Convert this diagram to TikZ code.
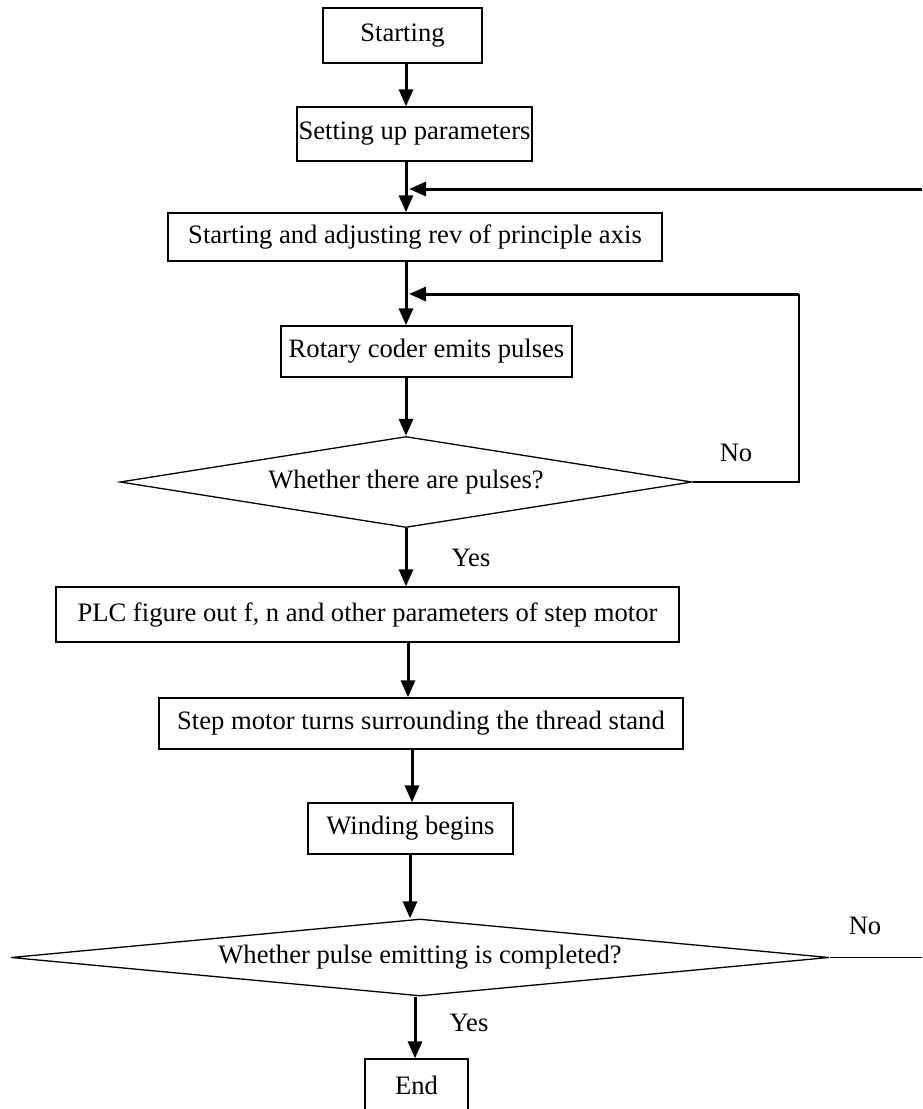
\documentclass[tikz,border=0pt]{standalone}
\usepackage{fontspec}
\setmainfont{Liberation Serif}
\usetikzlibrary{shapes.geometric,arrows.meta}
\begin{document}
\begin{tikzpicture}[x=1pt,y=-1pt,
  txt/.style={font=\fontsize{26.6}{32}\selectfont},
  box/.style={txt,draw,line width=1.3pt,rectangle,inner sep=0pt},
  dia/.style={txt,draw,line width=1.3pt,diamond,inner sep=0pt},
  arr/.style={line width=3pt,-{Triangle[length=17pt,width=14pt]}},
  thinline/.style={line width=1.5pt},
  lab/.style={txt,inner sep=0pt}]
\useasboundingbox (0,0) rectangle (922,1109);
\clip (0,0) rectangle (922,1109);
% nodes
\node[box,minimum width=159pt,minimum height=55pt] (start) at (402.5,35.5) {Starting};
\node[box,minimum width=235pt,minimum height=54pt] (setup) at (414.5,134) {Setting up parameters};
\node[box,minimum width=494pt,minimum height=48pt] (adjust) at (415,237) {Starting and adjusting rev of principle axis};
\node[box,minimum width=291pt,minimum height=51pt] (rotary) at (426.5,351.5) {Rotary coder emits pulses};
\node[dia,minimum width=572pt,minimum height=91pt,aspect=6.3] (d1) at (406,482) {Whether there are pulses?};
\node[box,minimum width=623pt,minimum height=55pt] (plc) at (367.5,614.5) {PLC figure out f, n and other parameters of step motor};
\node[box,minimum width=524pt,minimum height=51pt] (step) at (421,723.5) {Step motor turns surrounding the thread stand};
\node[box,minimum width=205pt,minimum height=51pt] (wind) at (410.5,828.5) {Winding begins};
\node[dia,minimum width=818pt,minimum height=77pt,aspect=10.6] (d2) at (420,957.5) {Whether pulse emitting is completed?};
\node[box,minimum width=103pt,minimum height=52pt] (end) at (416.5,1085) {End};
% labels
\node[lab] (no1) at (736,453) {No};
\node[lab] (yes1) at (471,558) {Yes};
\node[lab] (no2) at (865,926) {No};
\node[lab] (yes2) at (469,1023) {Yes};
% column coordinates
\coordinate (k1) at (406,0);
\coordinate (k2) at (406,0);
\coordinate (k3) at (408,0);
\coordinate (k4) at (412,0);
\coordinate (k5) at (410,0);
\coordinate (k6) at (415,0);
% main flow
\draw[arr] (start.south -| k1) -- (setup.north -| k1);
\draw[arr] (setup.south -| k1) -- (adjust.north -| k1);
\draw[arr] (adjust.south -| k2) -- (rotary.north -| k2);
\draw[arr] (rotary.south -| k2) -- (d1.north);
\draw[arr] (d1.south) -- (plc.north -| d1.south);
\draw[arr] (plc.south -| k3) -- (step.north -| k3);
\draw[arr] (step.south -| k4) -- (wind.north -| k4);
\draw[arr] (wind.south -| k5) -- (d2.north -| k5);
\draw[arr] (d2.south -| k6) -- (end.north -| k6);
% feedback loops
\coordinate (r1) at (922,189);
\coordinate (j1) at (409,189);
\draw[arr] (r1) -- (j1);
\coordinate (r2) at (799,294);
\coordinate (j2) at (409,294);
\draw[thinline] (d1.east) -- (d1.east -| r2) -- (r2);
\draw[arr] (r2) -- (j2);
\coordinate (r3) at (922,957.5);
\draw[thinline] (d2.east) -- (r3);
\end{tikzpicture}
\end{document}
